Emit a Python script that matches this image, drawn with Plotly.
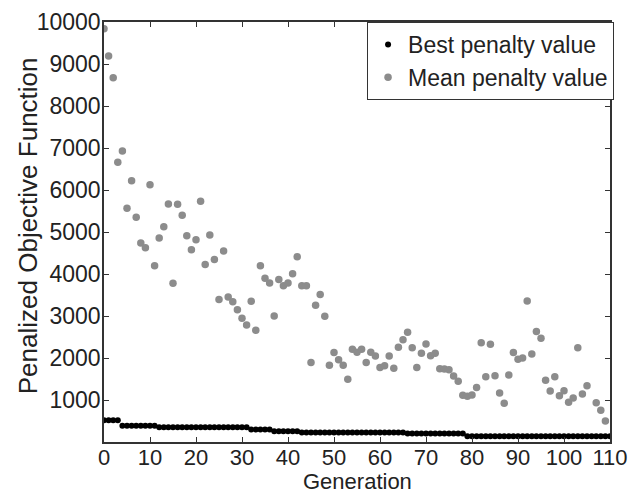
import plotly.graph_objects as go

# Mean penalty value per generation
mean_gen = list(range(0, 106)) + [107, 108, 109]
mean_val = [9840, 9190, 8675, 6659, 6929, 5563, 6222, 5349, 4738, 4627,
            6127, 4198, 4857, 5127, 5667, 3778, 5659, 5400, 4910, 4580,
            4818, 5730, 4225, 4929, 4345, 3395, 4545, 3453, 3340, 3150,
            2945, 2786, 3350, 2660, 4199, 3900, 3786, 3001, 3870, 3720,
            3786, 4008, 4410, 3720, 3720, 1890, 3258, 3512, 2993, 1826,
            2128, 1961, 1826, 1497, 2207, 2136, 2207, 1890, 2136, 2048,
            1771, 1818, 2048, 1755, 2255, 2437, 2612, 2247, 1771, 2112,
            2334, 2056, 2112, 1747, 1739, 1723, 1572, 1445, 1112, 1088,
            1120, 1300, 2366, 1556, 2326, 1580, 1167, 921, 1596, 2128,
            1969, 2000, 3357, 2096, 2628, 2469, 1469, 1215, 1556, 1104,
            1223, 945, 1048, 2247, 1144, 1342, 937, 755, 501]

# Best penalty value per generation (stepwise)
best_gen = list(range(0, 111))
best_val = ([520] * 4 + [385] * 8 + [350] * 20 + [295] * 5 + [255] * 6
            + [225] * 23 + [200] * 13 + [135] * 32)

x_ticks = list(range(0, 111, 10))
y_ticks = list(range(1000, 10001, 1000))
y_ticktext = [str(v) for v in y_ticks]

x_title = "Generation"
y_title = "Penalized Objective Function"

FONT = "Liberation Sans, Arial, sans-serif"
TXT = "#222222"
AX = "#333333"

fig = go.Figure()
fig.add_trace(go.Scatter(
    x=best_gen, y=best_val, mode="markers", name="Best penalty value",
    marker=dict(color="#000000", size=6, line=dict(width=0)),
))
fig.add_trace(go.Scatter(
    x=mean_gen, y=mean_val, mode="markers", name="Mean penalty value",
    marker=dict(color="#8c8c8c", size=7.5, line=dict(width=0)),
))

axis_common = dict(
    showline=True, linecolor=AX, linewidth=1.5, mirror="ticks",
    ticks="inside", ticklen=5, tickcolor=AX, tickwidth=1.2,
    showgrid=False, zeroline=False, automargin=False,
)

# the page body adds an 8px offset, so the figure is sized to fill the rest
fig.update_layout(
    width=636, height=485,
    margin=dict(l=96, r=34, t=14, b=51),
    paper_bgcolor="white", plot_bgcolor="white",
    font=dict(family=FONT, size=22, color=TXT),
    xaxis=dict(range=[0, 110], tickvals=x_ticks, ticklabelstandoff=-5,
               tickfont=dict(family=FONT, size=22, color=TXT), **axis_common),
    yaxis=dict(range=[0, 10000], tickvals=y_ticks, ticktext=y_ticktext,
               ticklabelstandoff=-3,
               tickfont=dict(family=FONT, size=23, color=TXT), **axis_common),
    legend=dict(x=1.008, y=1, xanchor="right", yanchor="top",
                bgcolor="white", bordercolor=AX, borderwidth=1,
                font=dict(family=FONT, size=23, color=TXT),
                itemsizing="trace", tracegroupgap=0),
    showlegend=True,
    annotations=[
        dict(text=x_title, xref="paper", yref="paper", x=0.5, y=-0.093,
             xanchor="center", yanchor="middle", showarrow=False,
             font=dict(family=FONT, size=22, color=TXT)),
        dict(text=y_title, xref="paper", yref="paper", x=-0.150, y=0.514,
             xanchor="center", yanchor="middle", textangle=-90, showarrow=False,
             font=dict(family=FONT, size=26, color=TXT)),
    ],
)

fig.write_html("out.html")
